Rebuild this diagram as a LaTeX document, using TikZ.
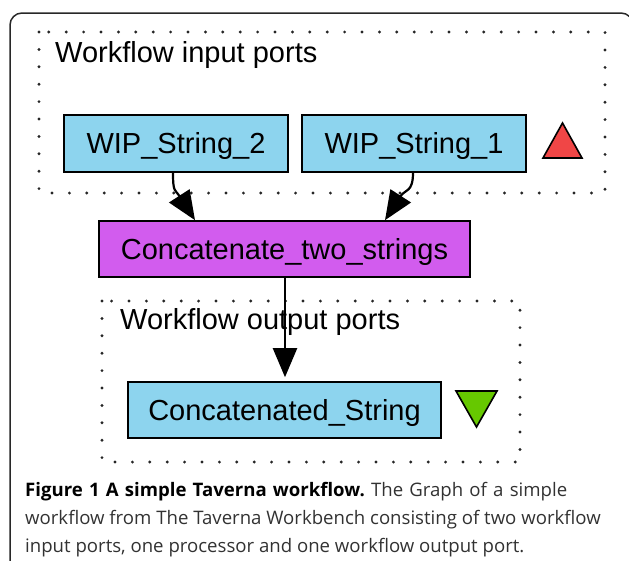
\documentclass[tikz,border=0pt]{standalone}
\usepackage{fontspec}
\setmainfont{Liberation Sans}
\newfontfamily\capfont{Open Sans}
\usetikzlibrary{arrows.meta}

\definecolor{portblue}{RGB}{141,212,238}
\definecolor{procpink}{RGB}{210,92,238}
\definecolor{inred}{RGB}{240,70,70}
\definecolor{outgreen}{RGB}{102,200,0}
\definecolor{framegray}{RGB}{40,40,40}
\definecolor{captext}{RGB}{50,50,50}

\tikzset{
  portbox/.style={draw=black, line width=1.6pt, fill=portblue, inner sep=0pt,
    font=\fontsize{29}{29}\selectfont, text height=20.8pt, text depth=0pt},
  procbox/.style={portbox, fill=procpink},
  clusterline/.style={line width=3.2pt, line cap=round, draw=black!85,
    dash pattern=on 0pt off 17.4pt},
  clusterlabel/.style={anchor=base west, inner sep=0pt, font=\fontsize{29}{29}\selectfont},
  flow/.style={line width=2.2pt, -{Triangle[length=29pt,width=24pt]}},
  captionline/.style={anchor=base west, inner sep=0pt, text=captext,
    font=\capfont\fontsize{18.6}{18.6}\selectfont\frenchspacing},
}

\begin{document}
\begin{tikzpicture}[x=1pt, y=-1pt]
  \useasboundingbox (0,0) rectangle (629,560);

  % outer figure frame (open at the bottom and right)
  \draw[framegray, line width=1.5pt, rounded corners=12pt]
    (10,580) -- (10,13) -- (633,13) -- (633,580);

  % clusters
  \draw[clusterline] (39,32) rectangle (605,193);
  \draw[clusterline] (102,301) rectangle (520,462);
  \node[clusterlabel] (inlabel) at (55,62) {Workflow input ports};
  \node[clusterlabel] (outlabel) at (120,329) {Workflow output ports};

  % ports and processor
  \node[portbox, minimum width=224pt, minimum height=57pt] (wip2) at (176,143.5) {WIP\_String\_2};
  \node[portbox, minimum width=224pt, minimum height=57pt] (wip1) at (414,143.5) {WIP\_String\_1};
  \node[procbox, minimum width=371pt, minimum height=56pt] (concat) at (284.5,249) {Concatenate\_two\_strings};
  \node[portbox, minimum width=313pt, minimum height=56pt] (result) at (284.5,410) {Concatenated\_String};

  % port markers
  \draw[fill=inred, line width=1.6pt, line join=miter] (543,158) -- (562.5,123) -- (582,158) -- cycle;
  \draw[fill=outgreen, line width=1.6pt, line join=miter] (456,391) -- (497,391) -- (476.5,427) -- cycle;

  % data links
  \draw[flow] ([xshift=-3pt]wip2.south) .. controls +(0,20) and +(-20,-31) .. ([xshift=-89.5pt]concat.north);
  \draw[flow] ([xshift=-1pt]wip1.south) .. controls +(0,20) and +(20,-31) .. ([xshift=100.5pt]concat.north);
  \draw[flow, shorten >=4pt] ([xshift=0.5pt]concat.south) -- ([xshift=0.5pt]result.north);

  % caption
  \node[captionline] (cap1) at (25,496) {\makebox[542pt][s]{\textbf{\color{black}Figure 1 A simple Taverna workflow.} The Graph of a simple}};
  \node[captionline] (cap2) at (25,524) {workflow from The Taverna Workbench consisting of two workflow};
  \node[captionline] (cap3) at (25,552) {input ports, one processor and one workflow output port.};
\end{tikzpicture}
\end{document}
